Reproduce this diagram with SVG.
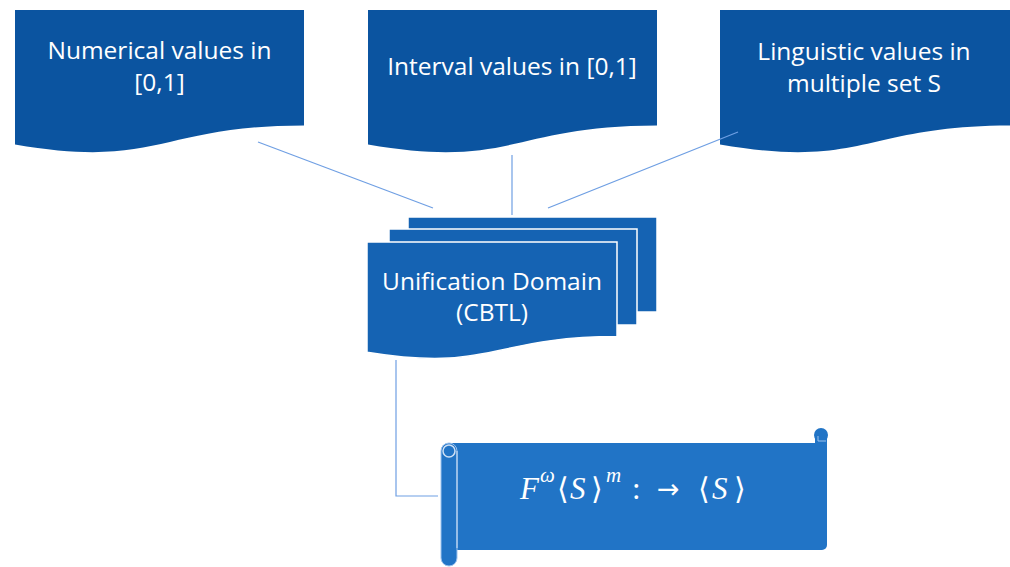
<svg xmlns="http://www.w3.org/2000/svg" width="1010" height="567" viewBox="0 0 1010 567">
<style>
.src{fill:#0B54A0}
.lbl{fill:#fff;font-family:"Open Sans","Liberation Sans",sans-serif;font-size:24.5px;text-anchor:middle}
.conn{stroke:#6F9FE3;stroke-width:1.2;fill:none}
.card{fill:#1563B3;stroke:#fff;stroke-width:1.5}
.math{fill:#fff;font-family:"Liberation Serif","DejaVu Serif",serif;font-size:31px}
.sup{font-size:21px}
.it{font-style:italic}
.br{font-family:"DejaVu Serif",serif;font-size:30px}
.ar{font-family:"DejaVu Sans",sans-serif;font-size:27px}
</style>
<rect width="1010" height="567" fill="#fff"/>
<g id="numerical">
<path class="src" d="M15,10 H304 V125.5 C159.5,125.5 159.5,169.4 15,144.5 Z"/>
<text class="lbl" x="159.5" y="59">Numerical values in</text>
<text class="lbl" x="159.5" y="91">[0,1]</text>
</g>
<g id="interval">
<path class="src" d="M368,10 H657 V125.5 C512.5,125.5 512.5,169.4 368,144.5 Z"/>
<text class="lbl" x="512" y="75">Interval values in [0,1]</text>
</g>
<g id="linguistic">
<path class="src" d="M720,10 H1010 V125.5 C865,125.5 865,169.4 720,144.5 Z"/>
<text class="lbl" x="864" y="60">Linguistic values in</text>
<text class="lbl" x="864" y="92">multiple set S</text>
</g>
<g id="connectors">
<line class="conn" x1="258" y1="142" x2="433" y2="208"/>
<line class="conn" x1="512" y1="155" x2="512" y2="215"/>
<line class="conn" x1="548" y1="208" x2="738" y2="132"/>
<polyline class="conn" points="396,360 396,496 438,496"/>
</g>
<g id="unification">
<rect class="card" x="408" y="217" width="249" height="95"/>
<rect class="card" x="389" y="229" width="248" height="96"/>
<path class="card" d="M367,242 H617 V336.6 C492,336.6 492,372.6 367,352.2 Z"/>
<text class="lbl" x="492" y="290">Unification Domain</text>
<text class="lbl" x="492" y="321">(CBTL)</text>
</g>
<g id="aggregation">
<path d="M449,443 H827 V545 A5,5 0 0 1 822,550 H449 Z" fill="#2174C6"/>
<circle cx="821" cy="435" r="7" fill="#2174C6"/>
<rect x="815" y="435" width="12" height="8" fill="#2174C6"/>
<path d="M818,436 V441 H826" fill="none" stroke="#9CC2EE" stroke-width="1"/>
<rect x="441" y="443" width="16" height="123" rx="8" fill="#2174C6" stroke="#9CC2EE" stroke-width="1"/>
<circle cx="449" cy="451" r="6" fill="#2174C6" stroke="#CFE0F5" stroke-width="1.5"/>
<line x1="457" y1="451" x2="457" y2="548" stroke="#CFE0F5" stroke-width="1"/>
<text class="math">
<tspan class="it" x="520" y="499">F</tspan><tspan class="it sup" x="540" y="482">ω</tspan><tspan class="br" x="557" y="499">⟨</tspan><tspan class="it" x="570" y="499">S</tspan><tspan class="br" x="591" y="499">⟩</tspan><tspan class="it sup" x="606" y="482">m</tspan><tspan x="632" y="499">:</tspan><tspan class="ar" x="657" y="498">→</tspan><tspan class="br" x="698" y="499">⟨</tspan><tspan class="it" x="712" y="499">S</tspan><tspan class="br" x="734" y="499">⟩</tspan>
</text>
</g>
</svg>
